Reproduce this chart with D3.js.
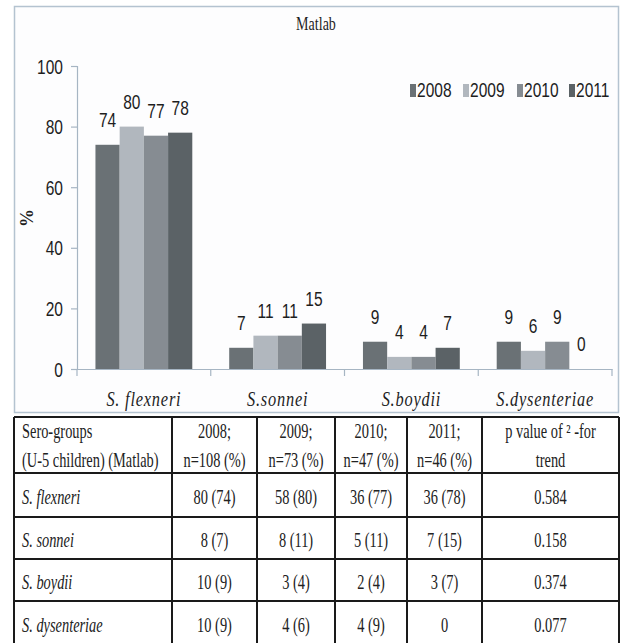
<!DOCTYPE html>
<html>
<head>
<meta charset="utf-8">
<script src="https://cdn.jsdelivr.net/npm/d3@7/dist/d3.min.js"></script>
<style>
  html, body { margin: 0; padding: 0; background: #fff; }
  svg { display: block; }
</style>
</head>
<body>
<svg id="chart" width="621" height="643"></svg>
<script>
// Serogroup shares (%) of Shigella isolates, U-5 children, Matlab
const categories = ["S. flexneri", "S.sonnei", "S.boydii", "S.dysenteriae"];
const years = ["2008", "2009", "2010", "2011"];
const values2008 = [74, 7, 9, 9];
const values2009 = [80, 11, 4, 6];
const values2010 = [77, 11, 4, 9];
const values2011 = [78, 15, 7, 0];
const yTicks = [0, 20, 40, 60, 80, 100];
const colors = ["#6a7175", "#b1b7be", "#868c92", "#5b6266"];

// Table contents
const tableHeader = [
  ["Sero-groups", "(U-5 children) (Matlab)"],
  ["2008;", "n=108 (%)"],
  ["2009;", "n=73 (%)"],
  ["2010;", "n=47 (%)"],
  ["2011;", "n=46 (%)"],
  ["p value of \u00b2  -for", "trend"]
];
const rowNames = ["S. flexneri", "S. sonnei", "S. boydii", "S. dysenteriae"];
const counts2008 = ["80 (74)", "8 (7)", "10 (9)", "10 (9)"];
const counts2009 = ["58 (80)", "8 (11)", "3 (4)", "4 (6)"];
const counts2010 = ["36 (77)", "5 (11)", "2 (4)", "4 (9)"];
const counts2011 = ["36 (78)", "7 (15)", "3 (7)", "0"];
const pValues = ["0.584", "0.158", "0.374", "0.077"];

const series = [values2008, values2009, values2010, values2011];
const data = categories.map((c, i) => ({ cat: c, vals: series.map(s => s[i]) }));

const svg = d3.select("#chart");
const SANS = "'Liberation Sans', Arial, sans-serif";
const SERIF = "'Liberation Serif', 'Times New Roman', serif";

// place text at (x,y) with horizontal condensing
function txt(g, x, y, s, opts) {
  const o = Object.assign({ sx: 0.74, size: 21, family: SANS, anchor: "middle", fill: "#1e1e1e", weight: "normal", style: "normal" }, opts || {});
  return g.append("text")
    .attr("transform", `translate(${x},${y}) scale(${o.sx},1)`)
    .attr("text-anchor", o.anchor)
    .attr("font-family", o.family)
    .attr("font-size", o.size)
    .attr("font-weight", o.weight)
    .attr("font-style", o.style)
    .attr("fill", o.fill)
    .text(s);
}

// chart frame
svg.append("rect")
  .attr("x", 14.5).attr("y", 6.5).attr("width", 604).attr("height", 406)
  .attr("fill", "#fdfdfe").attr("stroke", "#b4c3d0").attr("stroke-width", 1.5);

const plotLeft = 77, plotRight = 612, plotTop = 66, plotBottom = 369;

const x0 = d3.scaleBand().domain(categories).range([plotLeft, plotRight]).padding(0);
const x1 = d3.scaleBand().domain(years)
  .range([x0.bandwidth() * 0.138, x0.bandwidth() * 0.862]).padding(0);
const y = d3.scaleLinear().domain([0, 100]).range([plotBottom, plotTop]);

const axisColor = "#a6b5c3";

// y axis
const yAxis = svg.append("g")
  .attr("transform", `translate(${plotLeft},0)`)
  .call(d3.axisLeft(y).tickValues(yTicks).tickSize(6).tickFormat(d3.format("d")));
yAxis.select(".domain").attr("stroke", axisColor).attr("stroke-width", 1.2);
yAxis.selectAll(".tick line").attr("stroke", axisColor).attr("stroke-width", 1.2);
yAxis.selectAll(".tick text")
  .attr("x", null).attr("dy", null)
  .attr("transform", "translate(-14,7) scale(0.74,1)")
  .attr("font-family", SANS).attr("font-size", 21).attr("fill", "#1e1e1e")
  .attr("text-anchor", "end");

// bars
const groups = svg.append("g").selectAll("g").data(data).join("g")
  .attr("transform", d => `translate(${x0(d.cat)},0)`);
groups.selectAll("rect").data(d => d.vals.map((v, i) => ({ year: years[i], v, i })))
  .join("rect")
  .attr("x", d => x1(d.year))
  .attr("y", d => y(d.v))
  .attr("width", x1.bandwidth())
  .attr("height", d => y(0) - y(d.v))
  .attr("fill", d => colors[d.i]);

// value labels
groups.each(function(d) {
  const g = d3.select(this);
  d.vals.forEach((v, i) => {
    txt(g, x1(years[i]) + x1.bandwidth() / 2, y(v) - 18, String(v));
  });
});

// x axis line and boundary ticks
const xAxis = svg.append("g")
  .attr("transform", `translate(0,${plotBottom})`)
  .call(d3.axisBottom(x0).tickSize(0).tickFormat(""));
xAxis.select(".domain").attr("stroke", axisColor).attr("stroke-width", 1.2);
const bounds = categories.map(c => x0(c)).concat([x0.range()[1]]);
svg.append("g").selectAll("line").data(bounds).join("line")
  .attr("x1", d => d).attr("x2", d => d)
  .attr("y1", plotBottom).attr("y2", plotBottom + 7)
  .attr("stroke", axisColor).attr("stroke-width", 1.2);

// category labels
categories.forEach(c => {
  txt(svg, x0(c) + x0.bandwidth() / 2, 406, c,
    { family: SERIF, style: "italic", size: 21, sx: 0.78 })
    .attr("letter-spacing", 1);
});

// y axis title
svg.append("text")
  .attr("transform", "translate(33,218) rotate(-90)")
  .attr("text-anchor", "middle")
  .attr("font-family", SERIF).attr("font-weight", "bold")
  .attr("font-size", 18).attr("fill", "#1e1e1e")
  .text("%");

// chart title
txt(svg, 316, 30, "Matlab", { family: SERIF, size: 19, sx: 0.74 });

// legend
const legendX = [410, 463, 517, 569];
years.forEach((yr, i) => {
  svg.append("rect").attr("x", legendX[i]).attr("y", 84).attr("width", 6).attr("height", 13)
    .attr("fill", colors[i]);
  txt(svg, legendX[i] + 7, 97, yr, { anchor: "start" });
});

// ---- table ----
const colX = [14, 172, 257, 335, 407, 482, 619];
const rowY = [417, 473, 517, 559, 601, 645];
const tbl = svg.append("g");
const lineColor = "#1a1a1a";
rowY.forEach(yy => {
  tbl.append("line").attr("x1", colX[0]).attr("x2", colX[colX.length - 1])
    .attr("y1", yy).attr("y2", yy).attr("stroke", lineColor).attr("stroke-width", 2);
});
colX.forEach(xx => {
  tbl.append("line").attr("x1", xx).attr("x2", xx)
    .attr("y1", rowY[0]).attr("y2", rowY[rowY.length - 1])
    .attr("stroke", lineColor).attr("stroke-width", 2);
});

const tOpts = { family: SERIF, size: 20, sx: 0.72, fill: "#222" };
// header
tableHeader.forEach((lines, j) => {
  lines.forEach((s, k) => {
    const yy = 438 + k * 29;
    if (j === 0) txt(tbl, colX[0] + 8, yy, s, Object.assign({}, tOpts, { anchor: "start" }));
    else txt(tbl, (colX[j] + colX[j + 1]) / 2, yy, s, tOpts);
  });
});
// body rows
const bodyCols = [counts2008, counts2009, counts2010, counts2011, pValues];
rowNames.forEach((name, r) => {
  const yy = rowY[r + 1] + (rowY[r + 2] - rowY[r + 1]) / 2 + 9;
  txt(tbl, colX[0] + 8, yy, name, Object.assign({}, tOpts, { anchor: "start", style: "italic" }));
  bodyCols.forEach((col, j) => {
    txt(tbl, (colX[j + 1] + colX[j + 2]) / 2, yy, col[r], tOpts);
  });
});
</script>
</body>
</html>
